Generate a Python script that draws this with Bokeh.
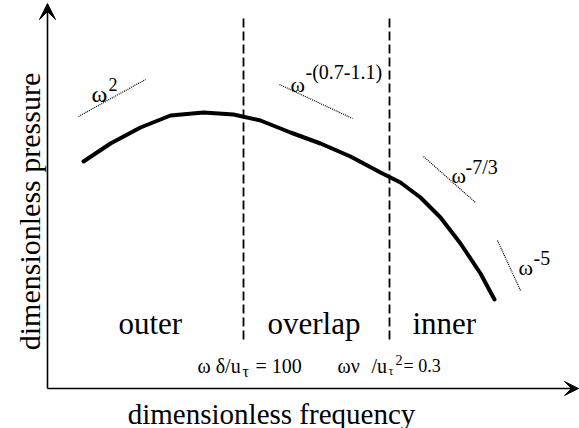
from bokeh.plotting import figure
from bokeh.models import Range1d, Arrow, VeeHead
from bokeh.core.properties import value
from bokeh.embed import file_html
from bokeh.resources import INLINE
import math

# ---- schematic data (coordinates in a 579 x 428 drawing space, y grows downward) ----
curve_x = [83, 110, 140, 170, 203, 233, 260, 290, 320, 350, 380, 400, 420, 440, 460, 480, 494]
curve_y = [161, 143, 127, 115, 112, 114, 120, 132, 143, 156, 172, 182, 197, 217, 243, 273, 299]

boundary_x = [243, 389]
boundary_top = [18, 18]
boundary_bottom = [339, 339]

slope_x0 = [78, 279, 423, 497]
slope_y0 = [116, 84, 156, 240]
slope_x1 = [145, 352, 475, 520]
slope_y1 = [79, 118, 202, 290]

slope_base = ["ω", "ω", "ω", "ω"]
slope_base_x = [91, 290, 451, 518]
slope_base_y = [93, 84, 175, 267]
slope_base_size = ["24px", "22px", "22px", "22px"]
slope_sup = ["2", "-(0.7-1.1)", "-7/3", "-5"]
slope_sup_x = [108, 305, 465, 533]
slope_sup_y = [84, 71, 166, 257]
slope_sup_size = ["18px", "20px", "20px", "20px"]

region_labels = ["outer", "overlap", "inner"]
region_x = [118, 267, 412]
region_y = [323, 323, 323]

note_text = ["ω δ/u", "τ", "= 100", "ων", "/u", "τ", "2", "= 0.3"]
note_x = [197, 242, 255, 337, 371, 388, 395, 403]
note_y = [365, 371, 365, 365, 365, 370, 359, 365]
note_size = ["20px", "16px", "20px", "20px", "20px", "12px", "14px", "18px"]

axis_origin = (47, 388)
x_axis_tip = 578
y_axis_tip = 3
x_label = "dimensionless frequency"
y_label = "dimensionless pressure"

SERIF = value("Liberation Serif, serif")

p = figure(width=579, height=428, output_backend="svg", toolbar_location=None,
           x_range=Range1d(0, 579), y_range=Range1d(428, 0),
           x_axis_type=None, y_axis_type=None, min_border=0)
p.grid.visible = False
p.outline_line_color = None
p.background_fill_color = "white"
p.border_fill_color = "white"

# axes with arrows
p.add_layout(Arrow(x_start=axis_origin[0], y_start=axis_origin[1], x_end=x_axis_tip, y_end=axis_origin[1],
                   line_width=1.6, line_color="black",
                   end=VeeHead(size=14, fill_color="black", line_color="black", line_width=1)))
p.add_layout(Arrow(x_start=axis_origin[0], y_start=axis_origin[1], x_end=axis_origin[0], y_end=y_axis_tip,
                   line_width=1.6, line_color="black",
                   end=VeeHead(size=16, fill_color="black", line_color="black", line_width=1)))

# region boundaries
p.segment(x0=boundary_x, y0=boundary_top, x1=boundary_x, y1=boundary_bottom,
          line_color="black", line_width=1.8, line_dash="9 4")

# spectrum curve
p.line(curve_x, curve_y, line_color="black", line_width=4, line_join="round", line_cap="round")

# slope indicators
p.segment(x0=slope_x0, y0=slope_y0, x1=slope_x1, y1=slope_y1,
          line_color="black", line_width=1.2, line_dash="1 1")

for t, x, y, s in zip(slope_base, slope_base_x, slope_base_y, slope_base_size):
    p.text(x=[x], y=[y], text=[t], text_font=SERIF, text_font_size=s,
           text_align="left", text_baseline="alphabetic", text_color="black")
for t, x, y, s in zip(slope_sup, slope_sup_x, slope_sup_y, slope_sup_size):
    p.text(x=[x], y=[y], text=[t], text_font=SERIF, text_font_size=s,
           text_align="left", text_baseline="alphabetic", text_color="black")

# region labels
p.text(x=region_x, y=region_y, text=region_labels, text_font=SERIF, text_font_size="31px",
       text_align="left", text_baseline="alphabetic", text_color="black")

# boundary notes
for t, x, y, s in zip(note_text, note_x, note_y, note_size):
    p.text(x=[x], y=[y], text=[t], text_font=SERIF, text_font_size=s,
           text_align="left", text_baseline="alphabetic", text_color="black")

# axis labels
p.text(x=[271], y=[413], text=[x_label], text_font=SERIF, text_font_size="29px",
       text_align="center", text_baseline="alphabetic", text_color="black")
p.text(x=[29], y=[211], text=[y_label], text_font=SERIF, text_font_size="30px",
       text_align="center", text_baseline="alphabetic", text_color="black", angle=math.pi / 2)

open("out.html", "w").write(file_html(p, INLINE))
